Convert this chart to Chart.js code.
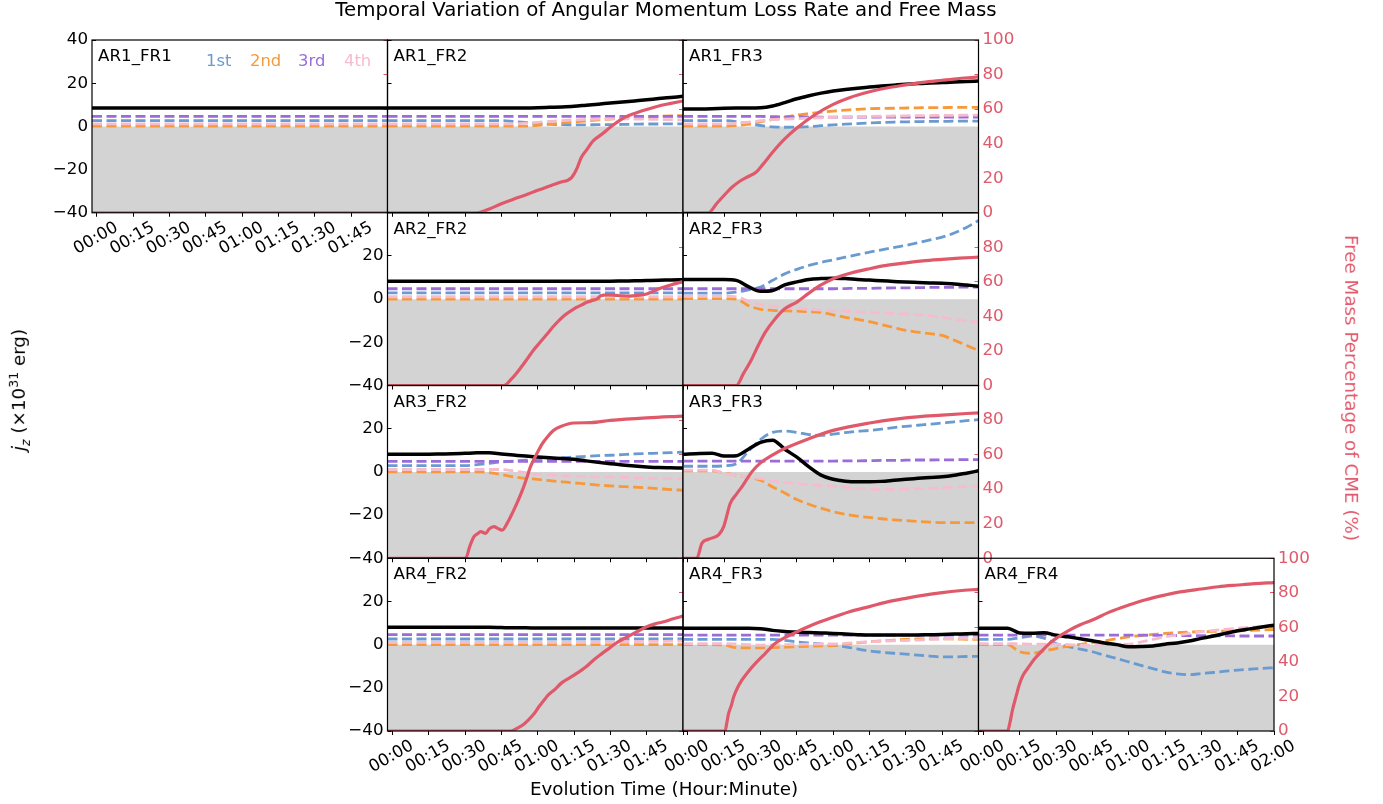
<!DOCTYPE html>
<html>
<head>
<meta charset="utf-8">
<script src="https://cdn.jsdelivr.net/npm/chart.js@4.4.0/dist/chart.umd.min.js"></script>
<style>
  html, body { margin: 0; padding: 0; background: #fff; }
  body { width: 1383px; height: 804px; position: relative; overflow: hidden; font-family: "DejaVu Sans", sans-serif; }
  canvas { position: absolute; left: 0; top: 0; }
  .txt { position: absolute; white-space: nowrap; color: #000; z-index: 5; line-height: 1; }
  .rot { transform: translate(-50%, -50%) rotate(-90deg); }
  .rot2 { transform: translate(-50%, -50%) rotate(90deg); }
</style>
</head>
<body>
<div class="txt" style="left:0;width:1332px;top:0px;text-align:center;font-size:19.8px">Temporal Variation of Angular Momentum Loss Rate and Free Mass</div>
<div class="txt" style="left:0;width:1328px;top:780px;text-align:center;font-size:18.3px">Evolution Time (Hour:Minute)</div>
<div class="txt rot" style="left:20px;top:390px;font-size:18.3px"><i>j</i><sub style="font-size:12.5px"><i>z</i></sub> (×10<sup style="font-size:12.5px">31</sup> erg)</div>
<div class="txt rot2" style="left:1351px;top:388px;font-size:18.3px;color:#e0596b">Free Mass Percentage of CME (%)</div>
<div id="labels"></div>
<script>
// time axis (minutes) and tick labels
const timeTicks = [0, 15, 30, 45, 60, 75, 90, 105, 120]
const timeTickLabels = ['00:00', '00:15', '00:30', '00:45', '01:00', '01:15', '01:30', '01:45', '02:00']
const jzTicks = [-40, -20, 0, 20, 40]
const jzTickLabels = ['\u221240', '\u221220', '0', '20', '40']
const massTicks = [0, 20, 40, 60, 80, 100]
const massTickLabels = ['0', '20', '40', '60', '80', '100']
const legendNames = ['1st', '2nd', '3rd', '4th']

// sample times of the j_z curves
const timeGrid = [-2, 5, 10, 15, 20, 25, 30, 35, 40, 45, 50, 55, 60, 65, 70, 75, 80, 85, 90, 95, 100, 105, 110, 115, 120]
const flatTime = [-2, 120]

// AR1_FR1
const ar1fr1Black = [8.5, 8.5]
const ar1fr1Blue = [2.7, 2.7]
const ar1fr1Orange = [0.1, 0.1]
const ar1fr1Purple = [4.6, 4.6]
const ar1fr1Pink = [1.2, 1.2]
const ar1fr1RedT = [-2, 120]
const ar1fr1Red = [0, 0]

// AR1_FR2
const ar1fr2Black = [8.5, 8.5, 8.5, 8.5, 8.5, 8.5, 8.5, 8.5, 8.5, 8.5, 8.5, 8.5, 8.6, 8.8, 9.0, 9.3, 9.8, 10.3, 10.8, 11.3, 11.8, 12.3, 12.9, 13.4, 13.9]
const ar1fr2Blue = [2.7, 2.7, 2.7, 2.7, 2.7, 2.7, 2.7, 2.7, 2.7, 2.7, 2.3, 1.8, 1.3, 1.0, 0.8, 0.7, 0.7, 0.8, 0.8, 0.9, 1.0, 1.1, 1.1, 1.2, 1.2]
const ar1fr2Orange = [0.1, 0.1, 0.1, 0.1, 0.1, 0.1, 0.1, 0.1, 0.1, 0.1, 0.1, 0.1, 0.5, 1.0, 1.5, 2.0, 2.5, 3.0, 3.4, 3.8, 4.2, 4.5, 4.7, 4.9, 5.0]
const ar1fr2Purple = [4.6, 4.6]
const ar1fr2Pink = [1.2, 1.2, 1.2, 1.2, 1.2, 1.2, 1.2, 1.2, 1.2, 1.2, 1.2, 1.5, 1.9, 2.3, 2.7, 3.0, 3.2, 3.4, 3.5, 3.5, 3.4, 3.3, 3.2, 3.1, 3.0]
const ar1fr2RedT = [-2, 35, 40, 45, 50, 55, 60, 65, 69, 74, 76, 78, 80, 83, 87, 90, 95, 100, 105, 110, 115, 120]
const ar1fr2Red = [0, 0, 2.2, 5.2, 7.8, 10.3, 13, 15.5, 17.5, 20.4, 25, 32, 36, 41.7, 46, 49.5, 54.5, 57.5, 59.8, 61.8, 63.3, 64.7]

// AR1_FR3
const ar1fr3Black = [8.1, 8.1, 8.2, 8.4, 8.5, 8.5, 8.6, 9.4, 11.0, 12.8, 14.2, 15.4, 16.4, 17.1, 17.7, 18.2, 18.7, 19.1, 19.5, 19.8, 20.1, 20.3, 20.5, 20.8, 21.0]
const ar1fr3Blue = [2.7, 2.7, 2.7, 2.7, 2.2, 1.2, 0.4, -0.2, -0.4, -0.3, -0.1, 0.3, 0.7, 1.0, 1.3, 1.6, 1.8, 2.0, 2.1, 2.2, 2.3, 2.3, 2.4, 2.4, 2.4]
const ar1fr3Orange = [0.1, 0.1, 0.1, 0.1, 0.3, 1.1, 2.1, 3.2, 4.3, 5.2, 5.9, 6.6, 7.1, 7.5, 7.9, 8.2, 8.3, 8.4, 8.5, 8.6, 8.7, 8.7, 8.8, 8.8, 8.8]
const ar1fr3Purple = [4.6, 4.6, 4.6, 4.6, 4.6, 4.6, 4.6, 4.5, 4.4, 4.4, 4.3, 4.3, 4.3, 4.3, 4.3, 4.3, 4.3, 4.3, 4.3, 4.3, 4.3, 4.3, 4.3, 4.3, 4.3]
const ar1fr3Pink = [1.2, 1.2, 1.2, 1.2, 1.5, 2.0, 2.6, 3.1, 3.4, 3.6, 3.8, 4.0, 4.2, 4.4, 4.5, 4.6, 4.7, 4.8, 4.9, 5.0, 5.0, 5.1, 5.1, 5.2, 5.2]
const ar1fr3RedT = [-2, 8.5, 12, 15.4, 18, 21.6, 25, 28, 31, 35, 40, 45, 52, 60, 67, 75, 82, 90, 97, 105, 112, 120]
const ar1fr3Red = [0, 0, 5.5, 10.7, 14.5, 18.4, 21, 23.3, 28, 35, 42.7, 49, 56.3, 62.7, 66.7, 70, 72.2, 74, 75.5, 76.7, 77.7, 78.6]

// AR2_FR2
const ar2fr2Black = [8.3, 8.3, 8.3, 8.3, 8.3, 8.3, 8.3, 8.3, 8.3, 8.3, 8.3, 8.3, 8.3, 8.3, 8.3, 8.3, 8.3, 8.3, 8.3, 8.4, 8.5, 8.6, 8.7, 8.9, 9.0]
const ar2fr2Blue = [2.9, 2.9]
const ar2fr2Orange = [0.0, 0.0]
const ar2fr2Purple = [4.8, 4.8]
const ar2fr2Pink = [1.1, 1.1]
const ar2fr2RedT = [-2, 46, 49, 51.6, 55.7, 58, 61, 64, 67, 71, 75, 78, 80.5, 83, 84.6, 86, 89, 93, 98, 102, 105, 110, 115, 120]
const ar2fr2Red = [0, 0, 3.5, 7.7, 15.4, 20, 25, 30, 35, 40.5, 44.4, 46.5, 48.3, 49.3, 50.2, 52, 52.5, 52.1, 51.7, 52.3, 53, 56, 58.2, 60.2]

// AR2_FR3
const ar2fr3Black = [9.1, 9.1, 9.1, 9.1, 8.7, 5.8, 3.6, 4.0, 6.6, 8.0, 9.1, 9.5, 9.7, 9.5, 9.1, 8.8, 8.5, 8.2, 7.9, 7.7, 7.5, 7.3, 7.0, 6.5, 6.0]
const ar2fr3Blue = [2.8, 2.8, 2.8, 2.8, 3.2, 4.3, 5.6, 8.7, 11.7, 13.8, 15.6, 17.0, 18.2, 19.4, 20.6, 21.8, 22.8, 23.9, 24.9, 26.1, 27.4, 28.7, 30.6, 33.2, 36.4]
const ar2fr3Orange = [0.2, 0.2, 0.2, 0.2, 0.0, -3.0, -4.7, -5.2, -5.4, -5.6, -5.8, -6.1, -7.3, -8.4, -9.4, -10.4, -11.8, -13.2, -14.5, -15.3, -16.0, -16.8, -19.0, -21.4, -23.8]
const ar2fr3Purple = [4.8, 4.8, 4.8, 4.8, 4.8, 4.8, 4.8, 4.8, 4.8, 4.8, 4.8, 4.8, 4.8, 4.9, 5.0, 5.0, 5.1, 5.2, 5.2, 5.3, 5.4, 5.4, 5.5, 5.6, 5.6]
const ar2fr3Pink = [1.4, 1.4, 1.4, 1.4, 1.0, -0.8, -2.6, -3.3, -3.9, -4.4, -4.8, -5.1, -5.3, -5.6, -5.9, -6.2, -6.4, -6.6, -6.8, -7.2, -7.8, -8.5, -9.3, -10.0, -10.7]
const ar2fr3RedT = [-2, 20, 23, 26.4, 29, 32, 36, 40, 45, 50, 55, 60, 67, 75, 82, 90, 97, 105, 112, 120]
const ar2fr3Red = [0, 0, 7, 15.4, 23, 30.9, 38.5, 44.4, 48.3, 53.5, 58.2, 61.8, 65, 67.6, 69.5, 71, 72.1, 73, 73.7, 74.3]

// AR3_FR2
const ar3fr2Black = [8.2, 8.2, 8.2, 8.2, 8.3, 8.4, 8.6, 8.8, 8.8, 8.3, 7.8, 7.3, 6.9, 6.5, 6.2, 5.8, 5.1, 4.4, 3.8, 3.2, 2.7, 2.3, 2.0, 1.9, 1.8]
const ar3fr2Blue = [2.9, 2.9, 2.9, 2.9, 2.9, 2.9, 2.9, 3.4, 4.0, 4.6, 5.0, 5.4, 5.7, 6.1, 6.5, 6.9, 7.2, 7.5, 7.7, 8.0, 8.3, 8.5, 8.7, 8.9, 9.1]
const ar3fr2Orange = [0.0, 0.0, 0.0, 0.0, 0.0, 0.0, 0.0, 0.0, -0.3, -1.2, -2.3, -3.0, -3.5, -4.1, -4.6, -5.1, -5.6, -6.1, -6.5, -6.8, -7.1, -7.4, -7.8, -8.2, -8.5]
const ar3fr2Purple = [4.9, 4.9]
const ar3fr2Pink = [1.1, 1.1, 1.1, 1.1, 1.1, 1.1, 1.1, 1.1, 1.1, 1.1, 0.4, -0.4, -1.2, -1.5, -1.8, -2.0, -2.2, -2.3, -2.3, -2.5, -2.7, -2.9, -3.0, -3.1, -3.2]
const ar3fr2RedT = [-2, 30.3, 32, 33.7, 35, 36.5, 38.5, 40, 42, 43.5, 45.4, 47.5, 49.5, 51.5, 53.7, 55.5, 57, 60, 62, 64, 66.5, 69.5, 75, 82, 90, 105, 120]
const ar3fr2Red = [0, 0, 7, 12.5, 14, 15.4, 14.4, 17, 18.3, 17.3, 16.3, 20.5, 26, 32, 39.4, 46.5, 52.9, 61.5, 66.5, 70.2, 74, 76.3, 78.3, 78.5, 79.8, 81.3, 82.3]

// AR3_FR3
const ar3fr3Black = [8.2, 8.5, 8.6, 7.3, 7.5, 10.5, 13.7, 14.7, 10.5, 6.8, 2.3, -1.5, -3.4, -4.3, -4.6, -4.6, -4.4, -3.9, -3.4, -3.0, -2.6, -2.3, -1.6, -0.6, 0.5]
const ar3fr3Blue = [2.6, 2.6, 2.6, 2.8, 3.8, 9.5, 15.0, 18.3, 18.9, 18.3, 17.3, 16.9, 17.5, 18.2, 18.8, 19.2, 19.8, 20.5, 21.1, 21.6, 22.1, 22.6, 23.2, 23.7, 24.2]
const ar3fr3Orange = [0.5, 0.5, 0.5, -0.5, -1.5, -2.6, -3.8, -7.0, -9.8, -12.8, -15.0, -16.8, -18.5, -19.6, -20.5, -21.1, -21.7, -22.2, -22.6, -23.0, -23.3, -23.5, -23.5, -23.5, -23.5]
const ar3fr3Purple = [5.0, 5.0, 5.0, 5.0, 5.0, 5.0, 5.0, 5.0, 5.0, 5.0, 5.0, 5.0, 5.0, 5.1, 5.1, 5.2, 5.3, 5.3, 5.4, 5.5, 5.5, 5.6, 5.6, 5.7, 5.7]
const ar3fr3Pink = [0.8, 0.8, 0.8, -0.6, -1.5, -2.4, -3.1, -4.2, -5.0, -5.4, -5.9, -6.3, -6.6, -7.1, -7.6, -8.0, -8.1, -8.1, -8.0, -7.8, -7.6, -7.3, -7.0, -6.8, -6.6]
const ar3fr3RedT = [-2, 3.7, 5.8, 8.5, 12.7, 14.8, 17.5, 20, 22.3, 26.4, 30, 34.7, 40, 50, 60, 75, 90, 105, 120]
const ar3fr3Red = [0, 0, 8.7, 11, 13.5, 18.3, 31.7, 37, 41.3, 50, 55.2, 59.6, 63.5, 69.2, 74, 78.3, 81.3, 82.9, 84.2]

// AR4_FR2
const ar4fr2Black = [8.0, 8.0, 8.0, 8.0, 8.0, 8.0, 8.0, 8.0, 8.0, 7.9, 7.8, 7.8, 7.7, 7.7, 7.7, 7.7, 7.7, 7.7, 7.7, 7.7, 7.7, 7.7, 7.7, 7.7, 7.7]
const ar4fr2Blue = [2.6, 2.6]
const ar4fr2Orange = [0.0, 0.0]
const ar4fr2Purple = [4.6, 4.6]
const ar4fr2Pink = [1.0, 1.0, 1.0, 1.0, 1.0, 1.0, 1.0, 1.0, 1.0, 1.0, 1.0, 1.0, 1.0, 1.0, 1.0, 1.0, 1.1, 1.1, 1.2, 1.3, 1.4, 1.5, 1.5, 1.6, 1.6]
const ar4fr2RedT = [-2, 48.8, 51, 53.7, 56, 58.5, 60.5, 62.6, 64.5, 66.7, 70, 75, 80, 83, 86.5, 90, 93, 97, 101, 105, 108.5, 112, 116, 120]
const ar4fr2Red = [0, 0, 1.2, 3.3, 6.2, 10, 14, 17.8, 21, 23.6, 28, 32.3, 37.2, 41, 44.8, 48.4, 51.5, 54.5, 57.5, 60.3, 62, 63.2, 65, 66.5]

// AR4_FR3
const ar4fr3Black = [7.6, 7.6, 7.6, 7.6, 7.6, 7.6, 7.4, 6.6, 6.1, 5.8, 5.6, 5.4, 5.2, 4.9, 4.6, 4.4, 4.4, 4.4, 4.4, 4.5, 4.6, 4.7, 4.9, 5.0, 5.2]
const ar4fr3Blue = [2.4, 2.4, 2.4, 2.4, 2.4, 2.4, 2.4, 2.4, 2.0, 1.3, 0.8, 0.3, -0.2, -1.0, -2.0, -2.9, -3.5, -4.0, -4.4, -4.9, -5.3, -5.7, -5.7, -5.5, -5.4]
const ar4fr3Orange = [0.0, 0.0, 0.0, -0.2, -1.4, -1.5, -1.5, -1.4, -1.2, -1.0, -0.8, -0.6, -0.4, 0.2, 0.8, 1.3, 1.7, 2.1, 2.4, 2.6, 2.7, 2.7, 2.6, 2.5, 2.4]
const ar4fr3Purple = [4.4, 4.4]
const ar4fr3Pink = [0.5, 0.5, 0.5, 0.5, 0.3, 0.0, -0.2, -0.1, 0.0, 0.1, 0.2, 0.3, 0.3, 0.6, 1.0, 1.3, 1.6, 1.8, 1.9, 2.1, 2.4, 2.6, 2.8, 2.9, 3.0]
const ar4fr3RedT = [-2, 15.4, 16, 16.8, 18, 18.9, 20.5, 22.3, 25, 27.8, 32, 36, 40, 45, 52, 60, 67, 75, 82, 90, 97, 105, 112, 120]
const ar4fr3Red = [0, 0, 4, 10, 15, 19.7, 25, 29.4, 34.5, 39, 45, 50.7, 54, 57.4, 61.8, 65.8, 69.2, 72, 74.6, 76.8, 78.5, 80.1, 81.2, 82]

// AR4_FR4
const ar4fr4Black = [7.6, 7.6, 7.6, 5.4, 5.3, 5.5, 4.4, 3.6, 2.7, 1.8, 0.8, 0.0, -1.0, -0.9, -0.6, 0.2, 0.8, 1.7, 2.9, 4.0, 5.2, 6.4, 7.3, 8.2, 9.0]
const ar4fr4Blue = [2.4, 2.4, 2.4, 3.2, 4.0, 3.0, 0.5, -0.9, -2.1, -3.3, -4.9, -6.4, -8.0, -9.6, -11.1, -12.6, -13.5, -13.9, -13.4, -12.9, -12.3, -11.8, -11.4, -11.0, -10.7]
const ar4fr4Orange = [0.0, 0.0, 0.0, -3.3, -4.0, -3.0, -1.8, -0.7, 0.1, 0.9, 1.8, 2.7, 3.6, 4.2, 4.7, 5.2, 5.5, 5.8, 6.0, 6.1, 6.3, 6.4, 6.6, 6.8, 7.0]
const ar4fr4Purple = [4.4, 4.4, 4.4, 4.4, 4.4, 4.4, 4.4, 4.4, 4.4, 4.4, 4.4, 4.4, 4.4, 4.4, 4.3, 4.3, 4.2, 4.2, 4.1, 4.1, 4.1, 4.0, 4.0, 4.0, 4.0]
const ar4fr4Pink = [0.5, 0.5, 0.5, 0.4, 0.2, 0.2, 0.2, 0.0, -0.2, -0.2, 0.0, 0.1, 0.2, 1.2, 2.4, 3.6, 4.4, 5.2, 6.0, 6.6, 7.1, 7.6, 8.0, 8.4, 8.7]
const ar4fr4RedT = [-2, 10, 11, 12, 13.5, 15, 16.5, 18.3, 21, 24.5, 27, 30, 35, 40, 45, 52, 60, 67, 75, 82, 90, 97, 105, 112, 120]
const ar4fr4Red = [0, 0, 5, 12, 20, 27.5, 32.5, 36.2, 41.5, 46.8, 50.3, 53.6, 58, 61.5, 64.2, 68.8, 72.9, 76, 78.7, 80.7, 82.2, 83.5, 84.5, 85.3, 85.9]

// colours
const RED = '#e0596b'
const BLUE = '#6a9bd0'
const ORANGE = '#f7993b'
const PURPLE = '#9b6cd8'
const PINK = '#f6bccd'
const GREY = '#d3d3d3'

// grid layout of the panels
const COL_X = [92, 387.5, 683, 978.5]
const ROW_Y = [40, 212.75, 385.5, 558.25]
const PANEL_W = 295.5
const PANEL_H = 172.75
const YW = 60, Y2W = 60, XH = 40

const panels = [
	{ name: 'AR1_FR1', row: 0, col: 0, y: true, x: true, y2: false, t: flatTime, black: ar1fr1Black, blue: ar1fr1Blue, orange: ar1fr1Orange, purple: ar1fr1Purple, pink: ar1fr1Pink, redT: ar1fr1RedT, red: ar1fr1Red },
	{ name: 'AR1_FR2', row: 0, col: 1, y: false, x: false, y2: false, t: timeGrid, black: ar1fr2Black, blue: ar1fr2Blue, orange: ar1fr2Orange, purple: ar1fr2Purple, pink: ar1fr2Pink, redT: ar1fr2RedT, red: ar1fr2Red },
	{ name: 'AR1_FR3', row: 0, col: 2, y: false, x: false, y2: true, top100: true, t: timeGrid, black: ar1fr3Black, blue: ar1fr3Blue, orange: ar1fr3Orange, purple: ar1fr3Purple, pink: ar1fr3Pink, redT: ar1fr3RedT, red: ar1fr3Red },
	{ name: 'AR2_FR2', row: 1, col: 1, y: true, x: false, y2: false, t: timeGrid, black: ar2fr2Black, blue: ar2fr2Blue, orange: ar2fr2Orange, purple: ar2fr2Purple, pink: ar2fr2Pink, redT: ar2fr2RedT, red: ar2fr2Red },
	{ name: 'AR2_FR3', row: 1, col: 2, y: false, x: false, y2: true, t: timeGrid, black: ar2fr3Black, blue: ar2fr3Blue, orange: ar2fr3Orange, purple: ar2fr3Purple, pink: ar2fr3Pink, redT: ar2fr3RedT, red: ar2fr3Red },
	{ name: 'AR3_FR2', row: 2, col: 1, y: true, x: false, y2: false, t: timeGrid, black: ar3fr2Black, blue: ar3fr2Blue, orange: ar3fr2Orange, purple: ar3fr2Purple, pink: ar3fr2Pink, redT: ar3fr2RedT, red: ar3fr2Red },
	{ name: 'AR3_FR3', row: 2, col: 2, y: false, x: false, y2: true, t: timeGrid, black: ar3fr3Black, blue: ar3fr3Blue, orange: ar3fr3Orange, purple: ar3fr3Purple, pink: ar3fr3Pink, redT: ar3fr3RedT, red: ar3fr3Red },
	{ name: 'AR4_FR2', row: 3, col: 1, y: true, x: true, y2: false, t: timeGrid, black: ar4fr2Black, blue: ar4fr2Blue, orange: ar4fr2Orange, purple: ar4fr2Purple, pink: ar4fr2Pink, redT: ar4fr2RedT, red: ar4fr2Red },
	{ name: 'AR4_FR3', row: 3, col: 2, y: false, x: true, y2: false, t: timeGrid, black: ar4fr3Black, blue: ar4fr3Blue, orange: ar4fr3Orange, purple: ar4fr3Purple, pink: ar4fr3Pink, redT: ar4fr3RedT, red: ar4fr3Red },
	{ name: 'AR4_FR4', row: 3, col: 3, y: false, x: true, y2: true, top100: true, lastX: true, t: timeGrid, black: ar4fr4Black, blue: ar4fr4Blue, orange: ar4fr4Orange, purple: ar4fr4Purple, pink: ar4fr4Pink, redT: ar4fr4RedT, red: ar4fr4Red }
]

Chart.defaults.font.family = 'DejaVu Sans'

// flat series only carry two values, so they use flatTime
function pts(ts, vs) {
	if (vs.length !== ts.length) ts = flatTime
	return ts.map((t, i) => ({ x: t, y: vs[i] }))
}

// black frame round every panel
const framePlugin = {
	id: 'frame',
	afterDraw(chart) {
		const a = chart.chartArea, ctx = chart.ctx
		ctx.save()
		ctx.strokeStyle = '#000'
		ctx.lineWidth = 1.2
		ctx.strokeRect(a.left, a.top, a.right - a.left, a.bottom - a.top)
		ctx.restore()
	}
}

function dashed(data, color, order) {
	return { data: data, yAxisID: 'y', borderColor: color, borderWidth: 2.8, borderDash: [10, 4.5], order: order }
}

const labelBox = document.getElementById('labels')

panels.forEach(p => {
	const x0 = COL_X[p.col], y0 = ROW_Y[p.row]
	const cv = document.createElement('canvas')
	cv.width = 1383
	cv.height = 804
	document.body.insertBefore(cv, labelBox)

	// panel name
	const nm = document.createElement('div')
	nm.className = 'txt'
	nm.style.cssText = `left:${x0 + 6}px;top:${y0 + 7}px;font-size:16.7px`
	nm.textContent = p.name
	labelBox.appendChild(nm)

	new Chart(cv.getContext('2d'), {
		type: 'line',
		data: {
			datasets: [
				{ data: pts(p.redT, p.red), yAxisID: 'y2', borderColor: RED, borderWidth: 3.2, order: 0 },
				{ data: pts(p.t, p.black), yAxisID: 'y', borderColor: '#000', borderWidth: 3.5, order: 1 },
				dashed(pts(p.t, p.pink), PINK, 2),
				dashed(pts(p.t, p.purple), PURPLE, 3),
				dashed(pts(p.t, p.orange), ORANGE, 4),
				dashed(pts(p.t, p.blue), BLUE, 5),
				{ data: pts(flatTime, [0, 0]), yAxisID: 'y', borderWidth: 0, borderColor: GREY, backgroundColor: GREY, fill: 'start', order: 10 }
			]
		},
		options: {
			responsive: false,
			animation: false,
			devicePixelRatio: 1,
			layout: {
				autoPadding: false,
				padding: { left: x0 - YW, right: 1383 - (x0 + PANEL_W) - Y2W, top: y0, bottom: 804 - (y0 + PANEL_H) - XH }
			},
			plugins: { legend: { display: false }, tooltip: { enabled: false } },
			elements: { point: { radius: 0 }, line: { cubicInterpolationMode: 'monotone', borderCapStyle: 'butt' } },
			scales: {
				x: {
					type: 'linear', min: -2, max: 120, position: 'bottom',
					afterBuildTicks: s => { s.ticks = timeTicks.map(v => ({ value: v })) },
					afterFit: s => { s.height = XH },
					ticks: {
						display: p.x, autoSkip: false, minRotation: 30, maxRotation: 30, labelOffset: 20, padding: 1,
						color: '#000', font: { size: 16.7 },
						callback: (v, i) => (i === timeTicks.length - 1 && !p.lastX) ? '' : timeTickLabels[i]
					},
					grid: { drawOnChartArea: false, tickLength: 4, color: '#000' },
					border: { display: false }
				},
				y: {
					position: 'left', min: -40, max: 40,
					afterBuildTicks: s => { s.ticks = jzTicks.map(v => ({ value: v })) },
					afterFit: s => { s.width = YW },
					ticks: {
						display: p.y, padding: 8, color: '#000', font: { size: 16.7 },
						callback: (v, i) => (i === jzTicks.length - 1 && p.row > 0) ? '' : jzTickLabels[i]
					},
					grid: { drawOnChartArea: false, tickLength: -4, color: '#000' },
					border: { display: false }
				},
				y2: {
					position: 'right', min: 0, max: 100,
					afterBuildTicks: s => { s.ticks = massTicks.map(v => ({ value: v })) },
					afterFit: s => { s.width = Y2W },
					ticks: {
						display: p.y2, padding: 8, color: RED, font: { size: 16.7 },
						callback: (v, i) => (i === massTicks.length - 1 && !p.top100) ? '' : massTickLabels[i]
					},
					grid: { drawOnChartArea: false, tickLength: -4, color: RED },
					border: { display: false }
				}
			}
		},
		plugins: [framePlugin]
	})
})

// legend text inside the first panel
const legendColors = [BLUE, ORANGE, PURPLE, PINK]
const legendX = [206, 250, 298, 344]
legendNames.forEach((n, i) => {
	const d = document.createElement('div')
	d.className = 'txt'
	d.style.cssText = `left:${legendX[i]}px;top:53px;font-size:16.4px;color:${legendColors[i]}`
	d.textContent = n
	labelBox.appendChild(d)
})
</script>
</body>
</html>
